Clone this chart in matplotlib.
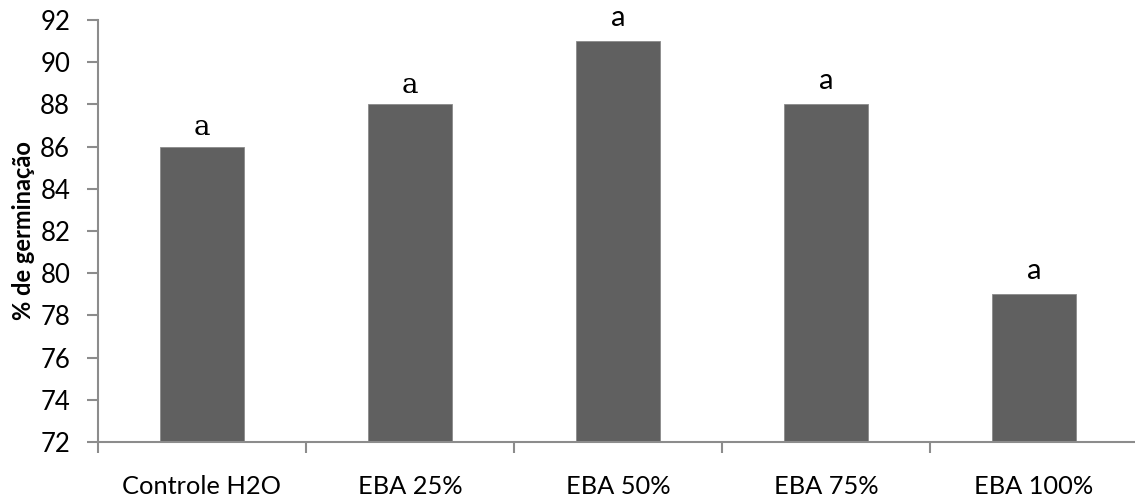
import matplotlib
matplotlib.use("Agg")
import matplotlib.pyplot as plt

categories = ["Controle H2O", "EBA 25%", "EBA 50%", "EBA 75%", "EBA 100%"]
germination = [86, 88, 91, 88, 79]
letters = ["a", "a", "a", "a", "a"]
letter_serif = [True, True, False, False, False]
yticks = [72, 74, 76, 78, 80, 82, 84, 86, 88, 90, 92]

W, H = 1135, 497
fig = plt.figure(figsize=(W / 100, H / 100), dpi=100)
ax = fig.add_axes([98 / W, 1 - 442 / H, 1040 / W, 422 / H])

x = list(range(len(categories)))
ax.bar(x, germination, width=0.4, bottom=0, color="#606060",
       edgecolor="#8a8a8a", linewidth=0.6, zorder=2)

ax.set_xlim(-0.5, len(categories) - 0.5)
ax.set_ylim(72, 92)
ax.set_yticks(yticks)
ax.set_yticklabels([str(v) for v in yticks], fontsize=18.5, family="Lato")

ax.set_xticks(x)
ax.set_xticklabels(categories, fontsize=18.3, family="Lato")
ax.tick_params(axis="x", length=0, pad=24)
ax.set_xticks([i - 0.5 for i in range(len(categories) + 1)], minor=True)
ax.tick_params(axis="x", which="minor", length=8, width=1.5, color="#8c8c8c")
ax.tick_params(axis="y", length=8, width=1.5, color="#8c8c8c", pad=12)

for side in ["top", "right"]:
    ax.spines[side].set_visible(False)
for side in ["left", "bottom"]:
    ax.spines[side].set_color("#8c8c8c")
    ax.spines[side].set_linewidth(1.5)

ax.set_ylabel("% de germinação", fontsize=17, fontweight="bold", family="Lato")
ax.yaxis.set_label_coords((35 - 98) / 1040, 0.5)

for xi, v, t, serif in zip(x, germination, letters, letter_serif):
    if serif:
        ax.text(xi, v + 0.55, t, ha="center", va="baseline", fontsize=20,
                family="DejaVu Serif")
    else:
        ax.text(xi, v + 0.72, t, ha="center", va="baseline", fontsize=21,
                family="Lato")

fig.savefig("out.png", dpi=100)
